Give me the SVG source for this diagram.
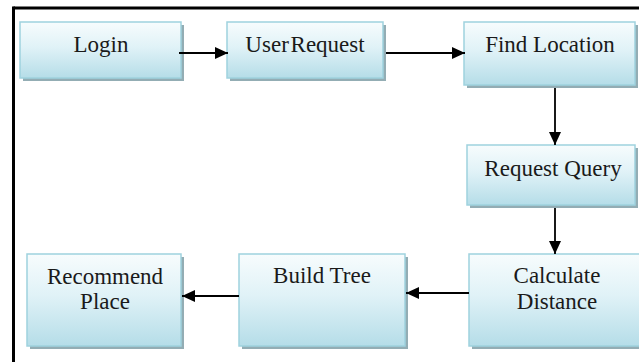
<svg xmlns="http://www.w3.org/2000/svg" width="639" height="362" viewBox="0 0 639 362">
<defs>
<linearGradient id="g" x1="0" y1="0" x2="0" y2="1">
<stop offset="0" stop-color="#f7fcfd"/>
<stop offset="0.45" stop-color="#e0f2f7"/>
<stop offset="1" stop-color="#b5dde8"/>
</linearGradient>
<marker id="ah" viewBox="0 0 13 12" refX="13" refY="6" markerWidth="13" markerHeight="12" markerUnits="userSpaceOnUse" orient="auto">
<path d="M0,0 L13,6 L0,12 Z" fill="#000"/>
</marker>
<style>
.sh{fill:#93adb4}
.bx{fill:url(#g);stroke:#9fd2de;stroke-width:1.5}
.t{font-family:"Liberation Serif","Times New Roman",serif;font-size:23px;fill:#1a1a1a;text-anchor:middle}
.c{stroke:#000;stroke-width:1.8;fill:none;marker-end:url(#ah)}
</style>
</defs>
<rect width="639" height="362" fill="#fff"/>
<g id="frame">
<line x1="13.5" y1="8" x2="639" y2="8" stroke="#000" stroke-width="3"/>
<line x1="13.5" y1="6.5" x2="13.5" y2="362" stroke="#000" stroke-width="3"/>
</g>
<g id="login">
<rect class="sh" x="23" y="25" width="161" height="56"/>
<rect class="bx" x="20" y="22" width="161" height="56"/>
<text class="t" x="101" y="52">Login</text>
</g>
<g id="user-request">
<rect class="sh" x="230" y="25" width="156" height="56"/>
<rect class="bx" x="227" y="22" width="156" height="56"/>
<text class="t" x="305" y="52" word-spacing="-4">User Request</text>
</g>
<g id="find-location">
<rect class="sh" x="467" y="25" width="171" height="63"/>
<rect class="bx" x="464" y="22" width="171" height="63"/>
<text class="t" x="550" y="52">Find Location</text>
</g>
<g id="request-query">
<rect class="sh" x="470" y="148" width="168" height="60"/>
<rect class="bx" x="467" y="145" width="168" height="60"/>
<text class="t" x="553" y="176">Request Query</text>
</g>
<g id="calculate-distance">
<rect class="sh" x="472" y="257" width="180" height="92"/>
<rect class="bx" x="469" y="254" width="180" height="92"/>
<text class="t" x="557" y="283">Calculate</text>
<text class="t" x="557" y="309">Distance</text>
</g>
<g id="build-tree">
<rect class="sh" x="242" y="257" width="166" height="92"/>
<rect class="bx" x="239" y="254" width="166" height="92"/>
<text class="t" x="322" y="283">Build Tree</text>
</g>
<g id="recommend-place">
<rect class="sh" x="30" y="257" width="154" height="92"/>
<rect class="bx" x="27" y="254" width="154" height="92"/>
<text class="t" x="105" y="284">Recommend</text>
<text class="t" x="105" y="309">Place</text>
</g>
<g id="connectors">
<line class="c" x1="179" y1="53" x2="228" y2="53"/>
<line class="c" x1="386" y1="53" x2="465" y2="53"/>
<line class="c" x1="555" y1="88" x2="555" y2="145"/>
<line class="c" x1="555" y1="208" x2="555" y2="254"/>
<line class="c" x1="469" y1="293" x2="406" y2="293"/>
<line class="c" x1="239" y1="296" x2="182" y2="296"/>
</g>
</svg>
